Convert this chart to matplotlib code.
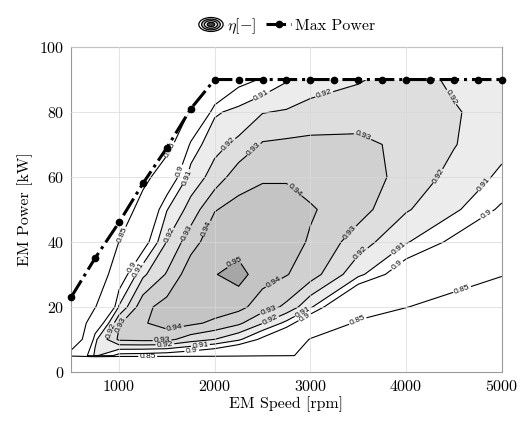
import numpy as np
import matplotlib
matplotlib.use("Agg")
import matplotlib.pyplot as plt
from matplotlib.patches import Ellipse
from matplotlib.legend_handler import HandlerBase

# ======================================================
# DATA
# ======================================================
speed = [500, 750, 1000, 1250, 1500, 1750, 2000, 2250, 2500, 2750, 3000, 3500, 4000, 4500, 5000]
power = [0, 5, 10, 15, 20, 30, 40, 50, 60, 70, 80, 90]

# efficiency per speed column, bottom (0 kW) to top (90 kW)
eta_500  = [0, 0.875, 0.800, 0.790, 0.780, 0.750, 0.750, 0.750, 0.750, 0.750, 0.750, 0.750]
eta_750  = [0, 0.912, 0.908, 0.885, 0.848, 0.800, 0.750, 0.750, 0.750, 0.750, 0.750, 0.750]
eta_1000 = [0, 0.896, 0.932, 0.929, 0.911, 0.890, 0.851, 0.800, 0.750, 0.750, 0.750, 0.750]
eta_1250 = [0, 0.895, 0.933, 0.939, 0.937, 0.918, 0.893, 0.880, 0.830, 0.750, 0.750, 0.750]
eta_1500 = [0, 0.893, 0.933, 0.944, 0.944, 0.931, 0.9205, 0.9095, 0.888, 0.830, 0.750, 0.750]
eta_1750 = [0, 0.890, 0.925, 0.942, 0.945, 0.946, 0.936, 0.924, 0.914, 0.904, 0.860, 0.800]
eta_2000 = [0, 0.885, 0.920, 0.938, 0.945, 0.9495, 0.946, 0.9395, 0.924, 0.917, 0.9085, 0.870]
eta_2250 = [0, 0.875, 0.912, 0.932, 0.943, 0.954, 0.945, 0.943, 0.936, 0.9225, 0.913, 0.896]
eta_2500 = [0, 0.862, 0.897, 0.9205, 0.935, 0.944, 0.945, 0.944, 0.939, 0.931, 0.9195, 0.901]
eta_2750 = [0, 0.855, 0.880, 0.907, 0.928, 0.9405, 0.944, 0.944, 0.939, 0.932, 0.921, 0.909]
eta_3000 = [0, 0.840, 0.848, 0.885, 0.912, 0.935, 0.939, 0.941, 0.936, 0.932, 0.925, 0.913]
eta_3500 = [0, 0.800, 0.820, 0.845, 0.870, 0.913, 0.925, 0.934, 0.936, 0.932, 0.926, 0.919]
eta_4000 = [0, 0.780, 0.800, 0.830, 0.851, 0.890, 0.911, 0.921, 0.926, 0.928, 0.927, 0.925]
eta_4500 = [0, 0.760, 0.790, 0.810, 0.835, 0.868, 0.897, 0.912, 0.917, 0.9205, 0.921, 0.918]
eta_5000 = [0, 0.740, 0.760, 0.790, 0.820, 0.852, 0.872, 0.898, 0.908, 0.913, 0.915, 0.916]

eta_cols = [eta_500, eta_750, eta_1000, eta_1250, eta_1500, eta_1750, eta_2000,
            eta_2250, eta_2500, eta_2750, eta_3000, eta_3500, eta_4000, eta_4500, eta_5000]

levels = [0.85, 0.9, 0.91, 0.92, 0.93, 0.94, 0.95]

# max power curve
max_speed = [500, 750, 1000, 1250, 1500, 1750, 2000, 2250, 2500, 2750, 3000, 3250,
             3500, 3750, 4000, 4250, 4500, 4750, 5000]
max_power = [23, 35, 46, 58, 69, 81, 90, 90, 90, 90, 90, 90, 90, 90, 90, 90, 90, 90, 90]

# ======================================================
# STYLE
# ======================================================
plt.rcParams["font.family"] = "serif"
plt.rcParams["font.serif"] = ["cmr10"]
plt.rcParams["mathtext.fontset"] = "cm"
plt.rcParams["axes.formatter.use_mathtext"] = True

fill_levels = [0, 0.85, 0.9, 0.91, 0.92, 0.93, 0.94, 0.95, 1.0]
fill_colors = ["white", "white", "white", "#ececec", "#dedede", "#d0d0d0", "#c4c4c4", "#a6a6a6"]

# rough spots where the map puts its contour labels
label_spots = {
    0.85: [(1060, 42), (1560, 68), (1300, 5), (3500, 15.5), (4590, 25)],
    0.9:  [(1150, 32), (1620, 62), (1760, 6.5), (2960, 16), (3900, 33), (4850, 48)],
    0.91: [(1230, 31), (1700, 60), (2500, 84.5), (1850, 8.3), (2920, 18.5), (3915, 38), (4840, 57)],
    0.92: [(890, 13), (1530, 42), (2110, 71), (3150, 85), (4300, 82), (4350, 60),
           (3540, 36), (2580, 16), (1480, 8)],
    0.93: [(1064, 14), (1690, 43), (2390, 69), (3515, 71), (3410, 43), (2560, 19), (1450, 9.5)],
    0.94: [(1585, 13), (1930, 44), (2870, 57), (2650, 26)],
    0.95: [(2200, 34)],
}


class ContourIcon:
    pass


class ContourIconHandler(HandlerBase):
    def create_artists(self, legend, orig_handle, xdescent, ydescent,
                       width, height, fontsize, trans):
        cx = width / 2 - xdescent
        cy = height / 2 - ydescent
        arts = []
        for k, fc in enumerate(["white", "#bdbdbd", "white", "#404040"]):
            s = 1 - 0.23 * k
            arts.append(Ellipse((cx, cy), width * 0.95 * s, height * 1.25 * s,
                                facecolor=fc, edgecolor="black", lw=0.9,
                                transform=trans))
        return arts


# ======================================================
# PLOT
# ======================================================
fig = plt.figure(figsize=(5.31, 4.24), dpi=100)
ax = fig.add_axes([0.134, 0.123, 0.811, 0.766])

S, P = np.meshgrid(speed, power)
E = np.array(eta_cols).T

ax.contourf(S, P, E, levels=fill_levels, colors=fill_colors, zorder=0.5)

# one contour set per level so each label lands on its own line
for lvl in levels:
    cs = ax.contour(S, P, E, levels=[lvl], colors="black", linewidths=0.8, zorder=1)
    ax.clabel(cs, fmt="%g", fontsize=6, inline=True, inline_spacing=2,
              manual=label_spots[lvl])
for t in ax.texts:
    t.set_fontfamily("Liberation Sans")

# blank out everything above the max power curve
ax.fill_between(max_speed, max_power, 100, color="white", zorder=1.5, lw=0)

line, = ax.plot(max_speed, max_power, "-.", color="black", lw=2.2,
                marker="o", markersize=4.5, zorder=4, clip_on=False)

ax.set_xlim(500, 5000)
ax.set_ylim(0, 100)
ax.set_xticks([1000, 2000, 3000, 4000, 5000])
ax.set_yticks([0, 20, 40, 60, 80, 100])
ax.set_axisbelow(False)
ax.grid(True, color="#d8d8d8", lw=0.6, alpha=0.8)
ax.tick_params(length=0, labelsize=11.5, pad=5)
for sp in ax.spines.values():
    sp.set_color("#9a9a9a")
    sp.set_linewidth(0.8)

ax.set_xlabel("EM Speed [rpm]", fontsize=11.5, labelpad=2)
ax.set_ylabel("EM Power [kW]", fontsize=11.5, labelpad=4)

ax.legend([ContourIcon(), line], [r"$\eta[-]$", "Max Power"],
          handler_map={ContourIcon: ContourIconHandler()},
          loc="lower center", bbox_to_anchor=(0.5, 1.0), ncol=2, frameon=False,
          fontsize=11.5, handlelength=1.6, handletextpad=0.2, columnspacing=0.6,
          borderaxespad=0.3)

fig.savefig("out.png", dpi=100)
